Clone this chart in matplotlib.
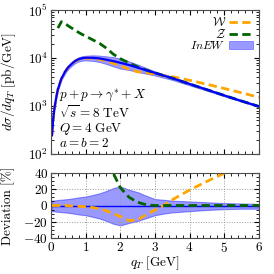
import numpy as np
import matplotlib
matplotlib.use("Agg")
import matplotlib.pyplot as plt
from matplotlib.ticker import MultipleLocator

plt.rcParams['font.family'] = 'serif'
plt.rcParams['font.serif'] = ['cmr10', 'DejaVu Serif']
plt.rcParams['mathtext.fontset'] = 'cm'
plt.rcParams['axes.formatter.use_mathtext'] = True
plt.rcParams['font.size'] = 9.5

# qT grid [GeV]
qt = [0.03, 0.06, 0.10, 0.15, 0.20, 0.30, 0.40, 0.50, 0.60, 0.70, 0.80, 0.90,
      1.00, 1.20, 1.40, 1.60, 1.80, 2.00, 2.25, 2.50, 2.75, 3.00, 3.25, 3.50,
      4.00, 4.50, 5.00, 5.50, 6.00]

# InEW central [pb/GeV]
inew = [250, 500, 890, 1480, 2240, 3700, 5100, 6450, 7600, 8700, 9450, 9900,
        10100, 10100, 9800, 9200, 8600, 7950, 7150, 6300, 5550, 4900, 4300, 3800,
        2880, 2190, 1660, 1270, 980]
# InEW band, relative [%]
band_up = [6, 6, 6.2, 6.5, 6.8, 7.2, 7.6, 8, 8.6, 9.3, 10, 10.5,
           11, 13, 15, 18, 21.5, 23.5, 19.5, 16.5, 12, 8, 7, 6,
           5, 4, 3, 2.5, 2]
band_dn = [-7, -7, -7.2, -7.5, -7.8, -8.2, -8.6, -9, -9.6, -10.3, -11, -11.5,
           -12, -14, -16, -19, -22.5, -24.5, -21.5, -19, -15.5, -12, -10, -8.5,
           -7, -5.5, -4.5, -4, -4]
# W prescription [pb/GeV]
w_pre = [250, 500, 890, 1480, 2240, 3700, 5100, 6430, 7560, 8640, 9350, 9770,
         9940, 9850, 9410, 8600, 7740, 6880, 5830, 5170, 4940, 4630, 4300, 4070,
         3430, 2840, 2320, 1880, 1520]
# Z prescription [pb/GeV]
z_pre = [np.nan, np.nan, np.nan, np.nan, 42000, 57000, 53000, 46500, 42000, 38000, 34000, 31000,
         28500, 24000, 20200, 16000, 12000, 9700, 7880, 6550, 5600, 4900, 4300, 3800,
         2880, 2190, 1660, 1270, 980]

q = np.array(qt)
cen = np.array(inew, dtype=float)
hi = cen * (1 + np.array(band_up) / 100)
lo = cen * (1 + np.array(band_dn) / 100)
w = np.array(w_pre, dtype=float)
z = np.array(z_pre, dtype=float)

c_w = '#FFA500'
c_z = '#006400'
c_b = '#0000FF'
dash = (0, (3, 1.6))

fig = plt.figure(figsize=(2.74, 2.74), dpi=100)
ax1 = fig.add_axes([0.186, 0.438, 0.759, 0.5255])
ax2 = fig.add_axes([0.186, 0.1314, 0.759, 0.2372])

# top panel
ax1.plot(q, w, color=c_w, lw=2, linestyle=dash, label=r'$\mathcal{W}$')
ax1.plot(q, z, color=c_z, lw=2, linestyle=dash, label=r'$\mathcal{Z}$')
ax1.fill_between(q, lo, hi, color=c_b, alpha=0.4, lw=0.6, edgecolor=c_b, label=r'$InEW$')
ax1.plot(q, cen, color=c_b, lw=1.6)
ax1.set_yscale('log')
ax1.set_xlim(0, 6)
ax1.set_ylim(1e2, 1e5)
ax1.set_ylabel(r'$d\sigma/dq_T\ [\mathrm{pb/GeV}]$')
ax1.yaxis.set_label_coords(-0.16, 0.5)
ax1.tick_params(labelbottom=False)
ax1.legend(loc='upper right', frameon=False, markerfirst=False, handlelength=2.0,
           labelspacing=-0.1, borderaxespad=0.1, handletextpad=0.3, fontsize=8.5)
info = (r'$p+p\rightarrow\gamma^{*}+X$' + '\n'
        + r'$\sqrt{s}=8\ \mathrm{TeV}$' + '\n'
        + r'$Q=4\ \mathrm{GeV}$' + '\n'
        + r'$a=b=2$')
ax1.text(0.04, 0.03, info, transform=ax1.transAxes, fontsize=9.5,
         va='bottom', ha='left', linespacing=1.0)

# bottom panel: deviation from InEW
ax2.fill_between(q, 100 * (lo / cen - 1), 100 * (hi / cen - 1), color=c_b, alpha=0.4,
                 lw=0.8, edgecolor=c_b)
ax2.plot(q, np.zeros_like(q), color=c_b, lw=1)
ax2.plot(q, 100 * (w / cen - 1), color=c_w, lw=2, linestyle=dash)
ax2.plot(q, 100 * (z / cen - 1), color=c_z, lw=2, linestyle=dash)
ax2.set_xlim(0, 6)
ax2.set_ylim(-40, 40)
ax2.yaxis.set_major_locator(MultipleLocator(20))
ax2.yaxis.set_minor_locator(MultipleLocator(5))
ax2.grid(True, which='major', linestyle=':', color='0.6', lw=0.7)
ax2.set_xlabel(r'$q_T\ [\mathrm{GeV}]$', labelpad=0)
ax2.set_ylabel('Deviation [%]')
ax2.yaxis.set_label_coords(-0.175, 0.5)

for ax in (ax1, ax2):
    ax.xaxis.set_major_locator(MultipleLocator(1))
    ax.xaxis.set_minor_locator(MultipleLocator(0.2))
    ax.tick_params(which='both', direction='in', top=True, right=True, labelsize=9.5, pad=2)
    ax.tick_params(which='major', length=3.5)
    ax.tick_params(which='minor', length=2)
    for s in ax.spines.values():
        s.set_color('0.3')

fig.savefig('out.png', dpi=100)
